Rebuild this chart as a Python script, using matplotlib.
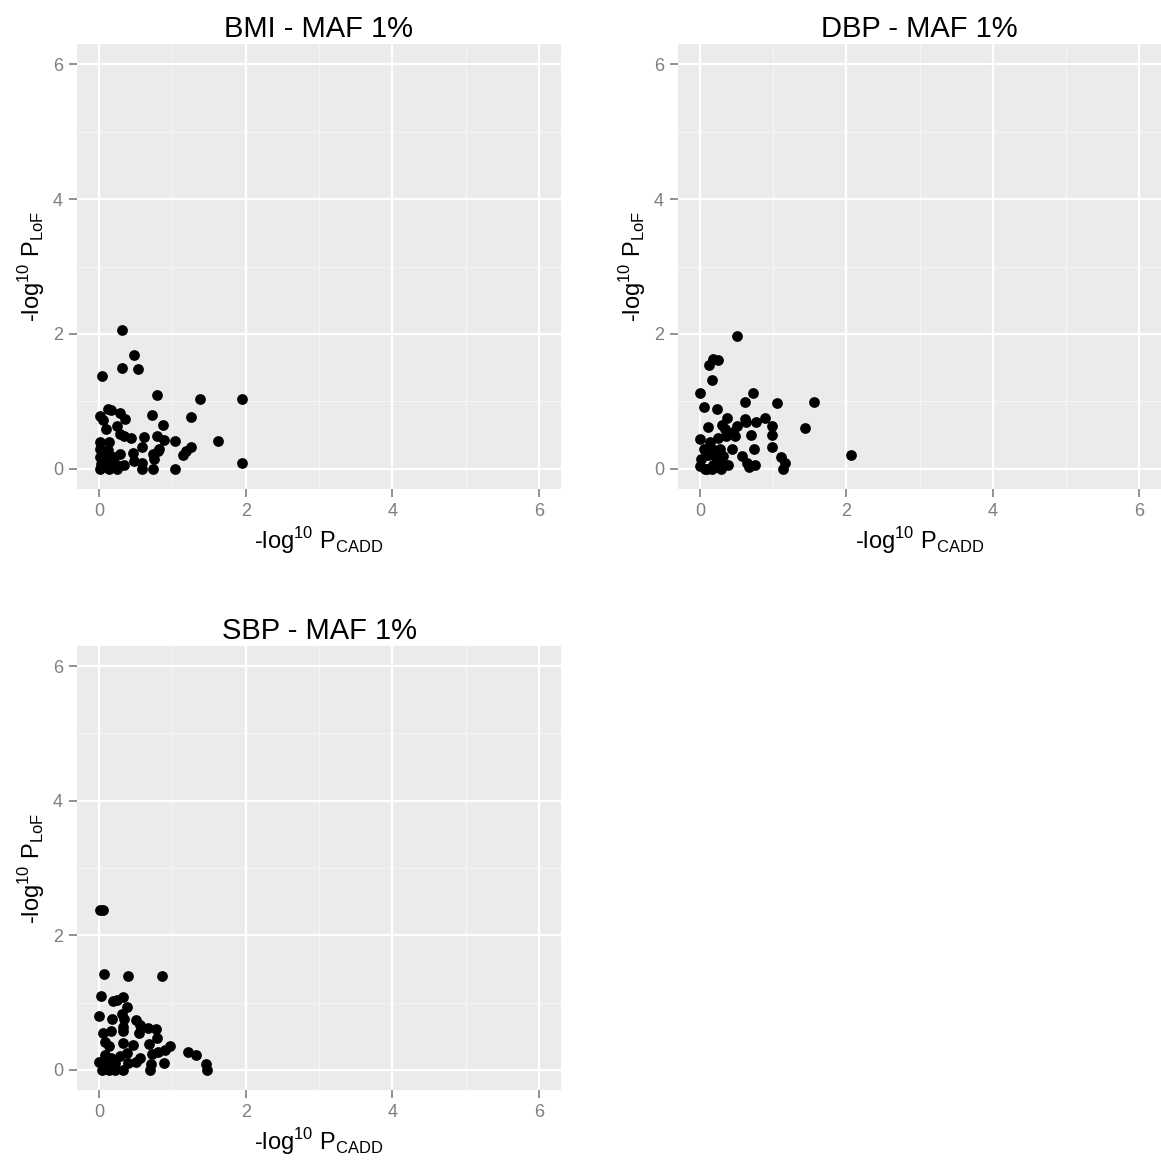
import matplotlib
matplotlib.use("Agg")
import matplotlib.pyplot as plt

plt.rcParams['font.family'] = ['Liberation Sans', 'DejaVu Sans']
plt.rcParams['mathtext.fontset'] = 'custom'
plt.rcParams['mathtext.rm'] = 'Liberation Sans'

titles = ["BMI - MAF 1%", "DBP - MAF 1%", "SBP - MAF 1%"]
ticks = [0, 2, 4, 6]
tick_labels = ["0", "2", "4", "6"]

bmi_x = [0.32, 0.48, 0.32, 0.53, 0.04, 0.79, 1.38, 1.95, 1.95, 1.62, 1.25, 0.72, 0.87,
         0.12, 0.17, 0.28, 0.36, 0.01, 0.05, 0.09, 0.24, 0.29, 0.34, 0.43, 0.62, 0.79,
         0.88, 1.03, 0.58, 0.82, 1.26, 1.19, 1.15, 1.04, 0.01, 0.14, 0.01, 0.12, 0.01,
         0.10, 0.21, 0.29, 0.03, 0.13, 0.25, 0.34, 0.01, 0.13, 0.25, 0.46, 0.48, 0.59,
         0.59, 0.73, 0.73, 0.80, 0.75]
bmi_y = [2.06, 1.69, 1.50, 1.48, 1.37, 1.10, 1.03, 1.03, 0.08, 0.41, 0.77, 0.80, 0.65,
         0.88, 0.87, 0.82, 0.74, 0.78, 0.72, 0.59, 0.63, 0.52, 0.48, 0.45, 0.47, 0.48,
         0.43, 0.41, 0.33, 0.30, 0.32, 0.27, 0.21, 0.00, 0.40, 0.39, 0.29, 0.28, 0.18,
         0.17, 0.17, 0.22, 0.07, 0.06, 0.05, 0.06, 0.00, 0.00, 0.00, 0.23, 0.12, 0.09,
         0.00, 0.00, 0.22, 0.27, 0.14]

dbp_x = [0.50, 0.18, 0.24, 0.13, 0.16, 0.00, 0.73, 0.62, 1.05, 1.56, 2.07, 1.44, 0.06,
         0.23, 0.37, 0.62, 0.63, 0.76, 0.89, 0.98, 0.99, 0.99, 0.11, 0.30, 0.34, 0.50,
         0.45, 0.48, 0.36, 0.70, 0.24, 0.00, 0.74, 0.44, 0.57, 0.64, 0.67, 0.75, 1.11,
         1.16, 1.14, 0.39, 0.29, 0.14, 0.05, 0.16, 0.27, 0.01, 0.11, 0.20, 0.32, 0.00,
         0.09, 0.18, 0.27, 0.07, 0.16, 0.14]
dbp_y = [1.97, 1.63, 1.62, 1.54, 1.32, 1.12, 1.12, 0.99, 0.97, 0.99, 0.20, 0.61, 0.91,
         0.88, 0.76, 0.74, 0.69, 0.69, 0.75, 0.63, 0.50, 0.33, 0.62, 0.65, 0.59, 0.63,
         0.55, 0.48, 0.48, 0.50, 0.46, 0.44, 0.30, 0.29, 0.19, 0.09, 0.03, 0.06, 0.17,
         0.08, 0.00, 0.05, 0.00, 0.39, 0.29, 0.30, 0.30, 0.15, 0.20, 0.19, 0.19, 0.04,
         0.00, 0.05, 0.08, 0.00, 0.00, 0.25]

sbp_x = [0.02, 0.06, 0.07, 0.39, 0.86, 0.03, 0.19, 0.24, 0.33, 0.38, 0.00, 0.18, 0.31,
         0.34, 0.51, 0.56, 0.67, 0.78, 0.79, 0.54, 0.05, 0.17, 0.33, 0.33, 0.08, 0.13,
         0.33, 0.46, 0.68, 0.97, 0.90, 0.81, 0.72, 1.22, 1.32, 1.46, 1.47, 0.88, 0.71,
         0.70, 0.56, 0.51, 0.40, 0.08, 0.17, 0.29, 0.38, 0.00, 0.10, 0.22, 0.04, 0.14,
         0.22, 0.33]
sbp_y = [2.38, 2.38, 1.43, 1.40, 1.40, 1.10, 1.03, 1.04, 1.08, 0.93, 0.80, 0.75, 0.83,
         0.75, 0.74, 0.67, 0.62, 0.60, 0.47, 0.54, 0.55, 0.57, 0.64, 0.57, 0.42, 0.35,
         0.40, 0.37, 0.39, 0.35, 0.30, 0.26, 0.24, 0.26, 0.22, 0.09, 0.00, 0.10, 0.09,
         0.00, 0.17, 0.11, 0.10, 0.22, 0.17, 0.20, 0.25, 0.11, 0.10, 0.10, 0.00, 0.00,
         0.00, 0.00]

data = [(bmi_x, bmi_y), (dbp_x, dbp_y), (sbp_x, sbp_y)]

W, H = 1161, 1165
fig = plt.figure(figsize=(W / 100, H / 100), dpi=100)

# axes rectangles in pixels: left, top, right, bottom
rects = [(77, 44, 561, 489), (678, 44, 1161, 489), (77, 646, 561, 1090)]

bg = '#EBEBEB'
for (x, y), title, (l, t, r, b) in zip(data, titles, rects):
    ax = fig.add_axes([l / W, 1 - b / H, (r - l) / W, (b - t) / H])
    ax.set_facecolor(bg)
    ax.set_xlim(-0.3, 6.3)
    ax.set_ylim(-0.3, 6.3)
    for v in [1, 3, 5]:
        ax.axvline(v, color='#F5F5F5', lw=0.8, zorder=0.5)
        ax.axhline(v, color='#F5F5F5', lw=0.8, zorder=0.5)
    for v in ticks:
        ax.axvline(v, color='white', lw=1.6, zorder=0.6)
        ax.axhline(v, color='white', lw=1.6, zorder=0.6)
    ax.scatter(x, y, s=60, color='black', linewidths=0, zorder=3)
    ax.set_xticks(ticks)
    ax.set_xticklabels(tick_labels)
    ax.set_yticks(ticks)
    ax.set_yticklabels(tick_labels)
    ax.tick_params(axis='both', colors='#7F7F7F', labelsize=13, length=6, width=1.2,
                   pad=4, direction='out')
    for s in ax.spines.values():
        s.set_visible(False)
    ax.set_title(title, fontsize=21, pad=5, color='black')
    ax.set_xlabel(r'-log$^{\mathregular{10}}$ P$_{\mathregular{CADD}}$', fontsize=17, labelpad=4)
    ax.set_ylabel(r'-log$^{\mathregular{10}}$ P$_{\mathregular{LoF}}$', fontsize=17, labelpad=4)

fig.savefig('out.png', dpi=100, facecolor='white')
